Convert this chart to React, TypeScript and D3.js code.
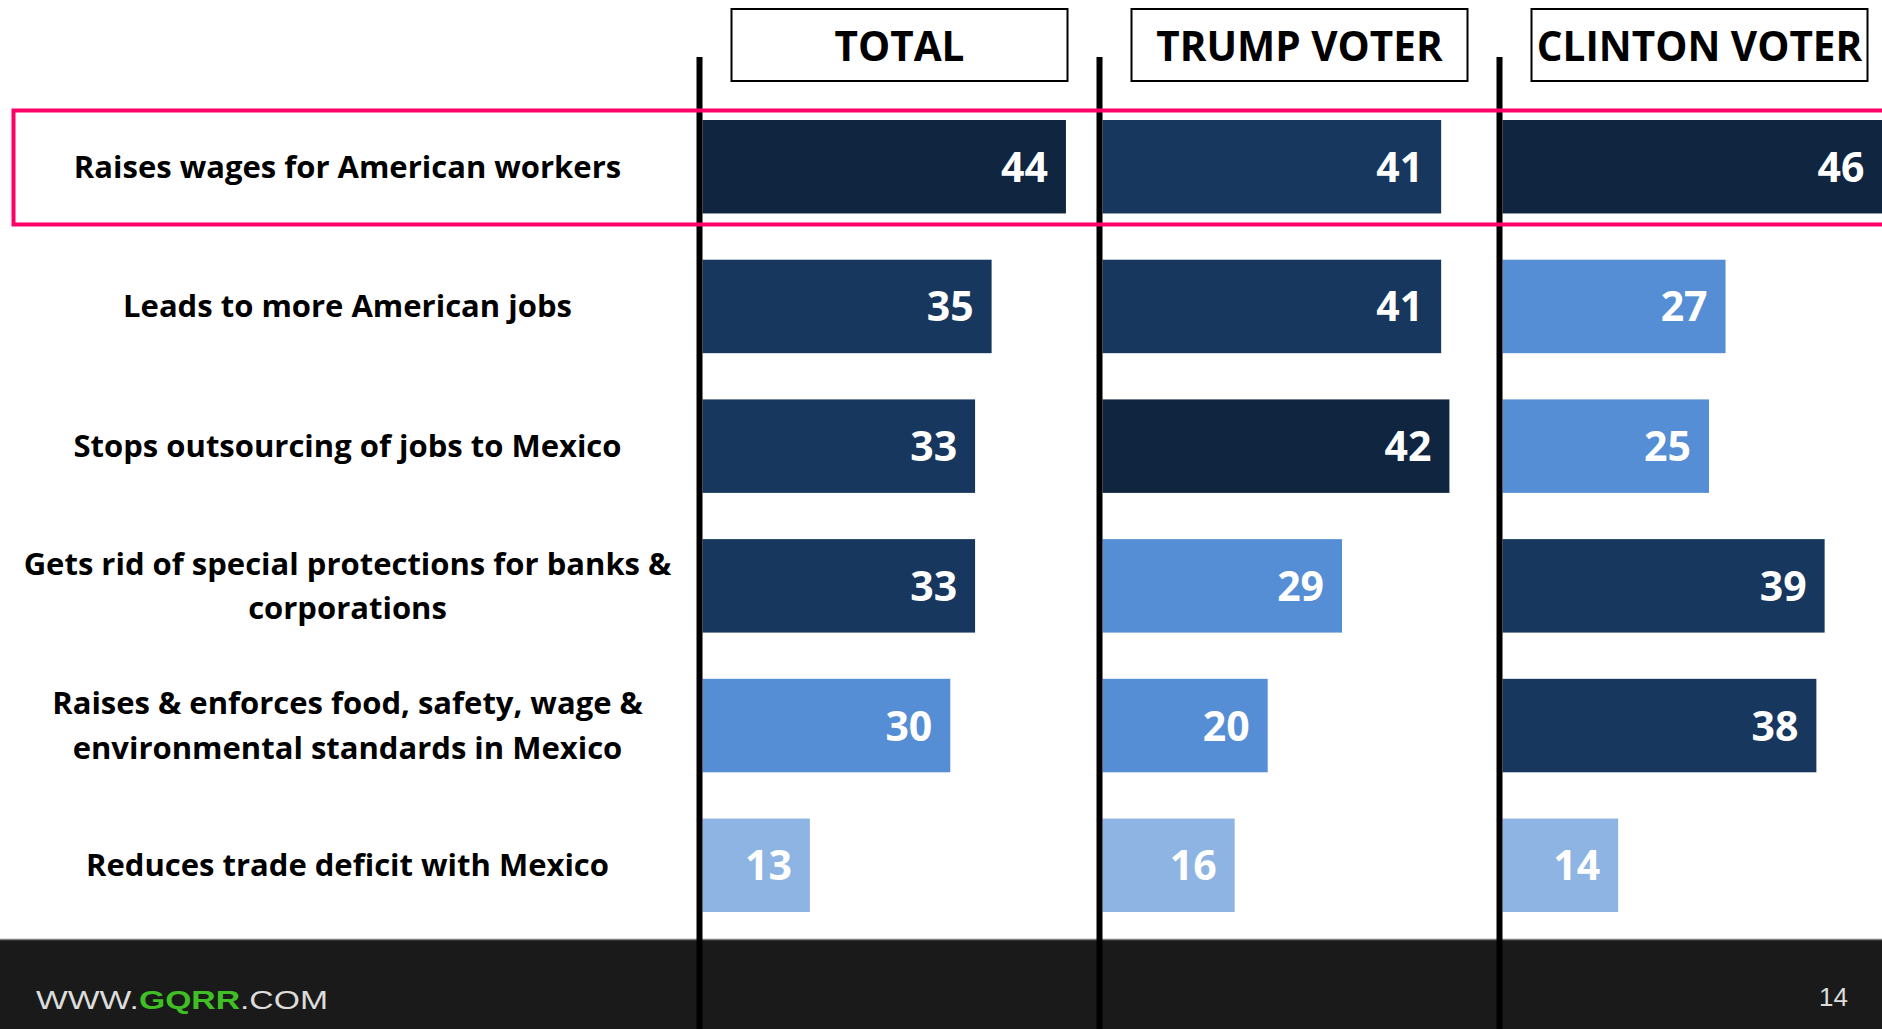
import React from "react";
import * as d3 from "d3";

const categories: string[][] = [
  ["Raises wages for American workers"],
  ["Leads to more American jobs"],
  ["Stops outsourcing of jobs to Mexico"],
  ["Gets rid of special protections for banks &", "corporations"],
  ["Raises & enforces food, safety, wage &", "environmental standards in Mexico"],
  ["Reduces trade deficit with Mexico"],
];
const groups = ["TOTAL", "TRUMP VOTER", "CLINTON VOTER"];
const totalValues = [44, 35, 33, 33, 30, 13];
const trumpValues = [41, 41, 42, 29, 20, 16];
const clintonValues = [46, 27, 25, 39, 38, 14];
// shade index: 0 darkest, 1 dark, 2 mid, 3 light
const totalShades = [0, 1, 1, 1, 2, 3];
const trumpShades = [1, 1, 0, 2, 2, 3];
const clintonShades = [0, 2, 2, 1, 1, 3];
const palette = ["#10253F", "#17375E", "#558ED5", "#8EB4E3"];
const highlightRow = 0;
const pageNumber = "14";

const W = 1882;
const H = 1029;

export default function App() {
  const series = [
    { values: totalValues, shades: totalShades },
    { values: trumpValues, shades: trumpShades },
    { values: clintonValues, shades: clintonShades },
  ];
  const x = d3.scaleLinear().domain([0, 100]).range([0, 826]);
  const y = d3
    .scaleBand<number>()
    .domain(d3.range(categories.length))
    .range([120, 912])
    .paddingInner(0.331)
    .paddingOuter(0);
  const col = d3.scalePoint<string>().domain(groups).range([699.5, 1499.5]);
  const bw = y.bandwidth();
  const labelFont = "'Open Sans', 'DejaVu Sans', sans-serif";

  return (
    <div style={{ position: "absolute", left: 0, top: 0, width: W, height: H, overflow: "hidden", background: "#fff" }}>
      <svg width={W} height={H} style={{ display: "block" }}>
        <rect x={0} y={0} width={W} height={H} fill="#ffffff" />
        {/* header boxes */}
        {groups.map((g) => {
          const cx = (col(g) as number) + 200;
          return (
            <g key={g}>
              <rect x={cx - 168} y={9} width={336} height={72} fill="#fff" stroke="#000" strokeWidth={2} />
              <text
                x={cx}
                y={61}
                textAnchor="middle"
                fontFamily={labelFont}
                fontWeight={700}
                fontSize={40.5}
                fill="#000"
              >
                {g}
              </text>
            </g>
          );
        })}
        {/* row labels */}
        {categories.map((lines, i) => {
          const cy = (y(i) as number) + bw / 2;
          const lh = 44.4;
          const start = cy - ((lines.length - 1) * lh) / 2;
          return (
            <text
              key={i}
              textAnchor="middle"
              fontFamily={labelFont}
              fontWeight={700}
              fontSize={31}
              fill="#000"
            >
              {lines.map((ln, j) => (
                <tspan key={j} x={347.5} y={start + j * lh + 11}>
                  {ln}
                </tspan>
              ))}
            </text>
          );
        })}
        {/* bars */}
        {groups.map((g, gi) => {
          const x0 = (col(g) as number) + 3;
          return (
            <g key={g} transform={`translate(${x0},0)`}>
              {series[gi].values.map((v, i) => {
                const top = y(i) as number;
                const w = x(v);
                return (
                  <g key={i}>
                    <rect x={0} y={top} width={w} height={bw} fill={palette[series[gi].shades[i]]} />
                    <text
                      x={w - 18}
                      y={top + bw / 2 + 15}
                      textAnchor="end"
                      fontFamily={labelFont}
                      fontWeight={700}
                      fontSize={41}
                      fill="#fff"
                    >
                      {v}
                    </text>
                  </g>
                );
              })}
            </g>
          );
        })}
        {/* footer */}
        <rect x={0} y={939} width={W} height={H - 939} fill="#1a1a1a" />
        <line x1={0} x2={W} y1={939.5} y2={939.5} stroke="#808080" strokeWidth={1.5} />
        <text
          x={36}
          y={1009}
          fontFamily="'Liberation Sans', Arial, sans-serif"
          fontSize={26}
          textLength={292}
          lengthAdjust="spacingAndGlyphs"
          fill="#dcdcdc"
        >
          <tspan>WWW.</tspan>
          <tspan fill="#3fbf25" fontWeight={700}>GQRR</tspan>
          <tspan>.COM</tspan>
        </text>
        <text
          x={1848}
          y={1006}
          textAnchor="end"
          fontFamily="'Liberation Sans', Arial, sans-serif"
          fontSize={26}
          fill="#dcdcdc"
        >
          {pageNumber}
        </text>
        {/* vertical divider lines */}
        {groups.map((g) => (
          <line
            key={g}
            x1={col(g) as number}
            x2={col(g) as number}
            y1={57}
            y2={H}
            stroke="#000"
            strokeWidth={6}
          />
        ))}
        {/* highlight box */}
        <rect
          x={13.5}
          y={(y(highlightRow) as number) - 9.5}
          width={W + 40}
          height={bw + 20.5}
          fill="none"
          stroke="#ff0066"
          strokeWidth={4}
        />
      </svg>
    </div>
  );
}
